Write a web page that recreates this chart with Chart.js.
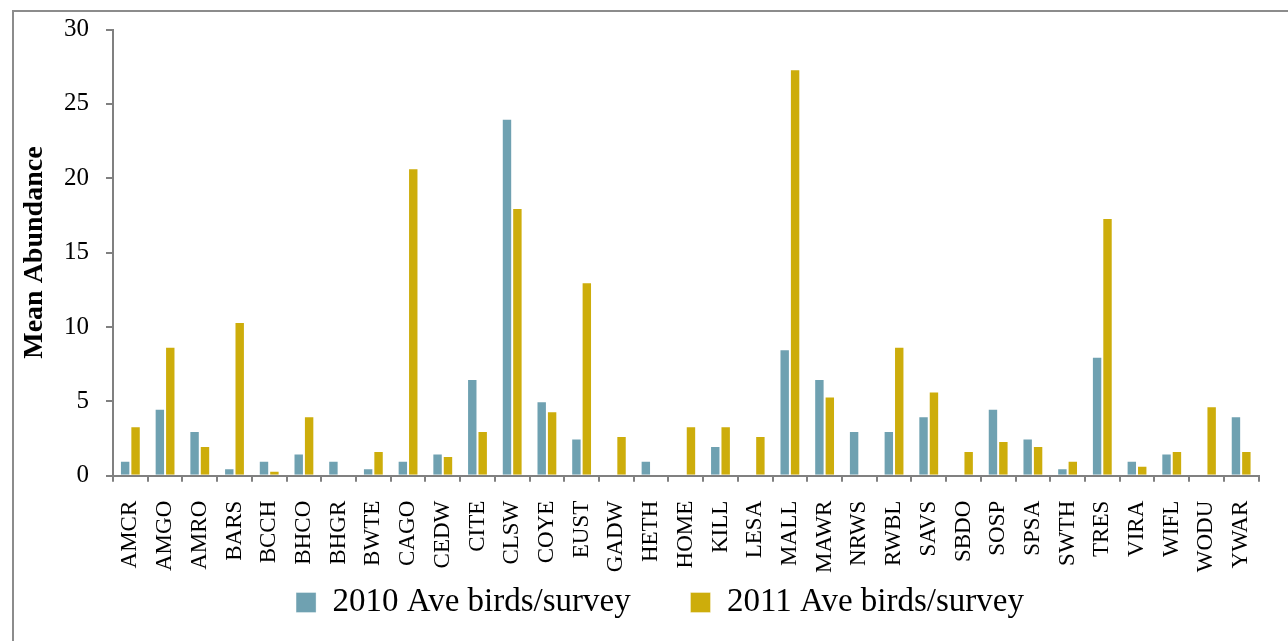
<!DOCTYPE html>
<html>
<head>
<meta charset="utf-8">
<script src="https://cdn.jsdelivr.net/npm/chart.js@4"></script>
<style>
  html, body { margin: 0; padding: 0; background: #fff; }
  #wrap { position: relative; width: 1288px; height: 641px; overflow: hidden; }
  #frame { position: absolute; left: 12px; top: 10px; width: 1400px; height: 800px;
           border-top: 2px solid #8c8c8c; border-left: 2px solid #8c8c8c; }
  #birds { position: absolute; left: 0; top: 0; }
</style>
</head>
<body>
<div id="wrap">
  <div id="frame"></div>
  <canvas id="birds" width="1288" height="641"></canvas>
</div>
<script>
// species codes along the x axis
const species = ['AMCR','AMGO','AMRO','BARS','BCCH','BHCO','BHGR','BWTE','CAGO','CEDW',
                 'CITE','CLSW','COYE','EUST','GADW','HETH','HOME','KILL','LESA','MALL',
                 'MAWR','NRWS','RWBL','SAVS','SBDO','SOSP','SPSA','SWTH','TRES','VIRA',
                 'WIFL','WODU','YWAR'];
// mean abundance per survey
const ave2010 = [1.0, 4.5, 3.0, 0.5, 1.0, 1.5, 1.0, 0.5, 1.0, 1.5,
                 6.5, 24.0, 5.0, 2.5, 0, 1.0, 0, 2.0, 0, 8.5,
                 6.5, 3.0, 3.0, 4.0, 0, 4.5, 2.5, 0.5, 8.0, 1.0,
                 1.5, 0, 4.0];
const ave2011 = [3.33, 8.67, 2.0, 10.33, 0.33, 4.0, 0, 1.67, 20.67, 1.33,
                 3.0, 18.0, 4.33, 13.0, 2.67, 0, 3.33, 3.33, 2.67, 27.33,
                 5.33, 0, 8.67, 5.67, 1.67, 2.33, 2.0, 1.0, 17.33, 0.67,
                 1.67, 4.67, 1.67];
const yTicks = [0, 5, 10, 15, 20, 25, 30];

const serif = 'Liberation Serif';
const axisGrey = '#808080';

// nudge the legend so it sits where the original one does
const legendNudge = {
    id: 'legendNudge',
    afterLayout(chart) {
        const lg = chart.legend;
        lg.left += 17; lg.right += 17;
        lg.top -= 8; lg.bottom -= 8;
    }
};

new Chart(document.getElementById('birds').getContext('2d'), {
    type: 'bar',
    data: {
        labels: species,
        datasets: [
            {
                label: '2010 Ave birds/survey       ',
                data: ave2010,
                backgroundColor: '#6fa1b1',
                borderColor: 'rgba(255,255,255,0.35)',
                borderWidth: 1,
                categoryPercentage: 0.6,
                barPercentage: 1.0
            },
            {
                label: '2011 Ave birds/survey',
                data: ave2011,
                backgroundColor: '#cdad0b',
                borderColor: 'rgba(255,255,255,0.35)',
                borderWidth: 1,
                categoryPercentage: 0.6,
                barPercentage: 1.0
            }
        ]
    },
    plugins: [legendNudge],
    options: {
        responsive: false,
        animation: false,
        layout: { padding: { left: 14, right: 16, top: 4, bottom: 4 } },
        plugins: {
            tooltip: { enabled: false },
            legend: {
                position: 'bottom',
                labels: {
                    color: '#000',
                    font: { family: serif, size: 33 },
                    boxWidth: 20,
                    boxHeight: 20,
                    padding: 2
                }
            }
        },
        scales: {
            x: {
                grid: { drawOnChartArea: false, color: axisGrey, lineWidth: 2, tickLength: 6 },
                border: { color: axisGrey, width: 2 },
                ticks: {
                    color: '#000',
                    font: { family: serif, size: 23 },
                    minRotation: 90, maxRotation: 90,
                    autoSkip: false,
                    padding: 19
                }
            },
            y: {
                min: 0, max: 30,
                afterBuildTicks: (scale) => { scale.ticks = yTicks.map(v => ({ value: v })); },
                afterFit: (scale) => { scale.width = 99; },
                grid: { drawOnChartArea: false, color: axisGrey, lineWidth: 2, tickLength: 7 },
                border: { color: axisGrey, width: 2 },
                ticks: {
                    color: '#000',
                    font: { family: serif, size: 25, lineHeight: 1 },
                    padding: 17
                },
                title: {
                    display: true,
                    text: 'Mean Abundance',
                    color: '#000',
                    font: { family: serif, size: 28, weight: 'bold' },
                    padding: { top: 4, bottom: 0 }
                }
            }
        }
    }
});
</script>
</body>
</html>
